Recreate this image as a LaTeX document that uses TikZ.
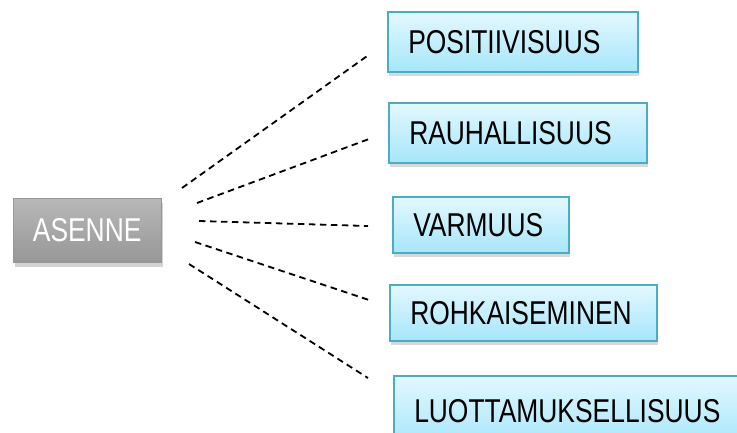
\documentclass[tikz,border=0pt]{standalone}
\usepackage{fontspec}
\setmainfont{Liberation Sans}[FakeStretch=0.8]
\usetikzlibrary{shadows}
\definecolor{boxtop}{HTML}{E3F8FE}
\definecolor{boxbot}{HTML}{A6E6FB}
\definecolor{boxline}{HTML}{4BACC6}
\definecolor{greytop}{HTML}{B8B8B8}
\definecolor{greybot}{HTML}{979797}
\begin{document}
\begin{tikzpicture}[x=1pt,y=-1pt,
  labelfont/.style={font=\fontsize{33}{37}\selectfont},
  item/.style={labelfont, draw=boxline, line width=1.5pt,
    top color=boxtop, bottom color=boxbot,
    anchor=north west, inner xsep=20.5pt, inner ysep=0pt, align=left,
    text=black,
    drop shadow={opacity=0.3, shadow xshift=1.5pt, shadow yshift=-4pt}},
  root/.style={labelfont, draw=greybot, line width=0.4pt,
    top color=greytop, bottom color=greybot,
    anchor=north west, inner sep=0pt, align=center, text=white,
    minimum width=148pt, minimum height=64pt,
    drop shadow={opacity=0.35, shadow xshift=1.5pt, shadow yshift=-5pt}},
  link/.style={black, line width=1.8pt, dash pattern=on 6.5pt off 4.5pt}
]
\useasboundingbox (0,0) rectangle (737,432);

% centre node
\node[root] (asenne) at (13,198) {ASENNE};

% the five qualities
\node[item, text width=209pt, minimum height=60pt] (pos) at (387,11) {POSITIIVISUUS};
\node[item, text width=217pt, minimum height=60pt] (rau) at (388,102) {RAUHALLISUUS};
\node[item, text width=135pt, minimum height=56pt] (var) at (392,196) {VARMUUS};
\node[item, text width=226pt, minimum height=56pt] (roh) at (389,284) {ROHKAISEMINEN};
\node[item, text width=319pt, minimum height=70pt] (luo) at (393,375) {LUOTTAMUKSELLISUUS};

% connector end points
\coordinate (s1) at (182,188); \coordinate (e1) at (370,54);
\coordinate (s2) at (197,203); \coordinate (e2) at (369,139);
\coordinate (s3) at (199,221); \coordinate (e3) at (368,226);
\coordinate (s4) at (195,242); \coordinate (e4) at (369,300);
\coordinate (s5) at (189,264); \coordinate (e5) at (368,378);

\draw[link] (s1) -- (e1);
\draw[link] (s2) -- (e2);
\draw[link] (s3) -- (e3);
\draw[link] (s4) -- (e4);
\draw[link] (s5) -- (e5);
\end{tikzpicture}
\end{document}
